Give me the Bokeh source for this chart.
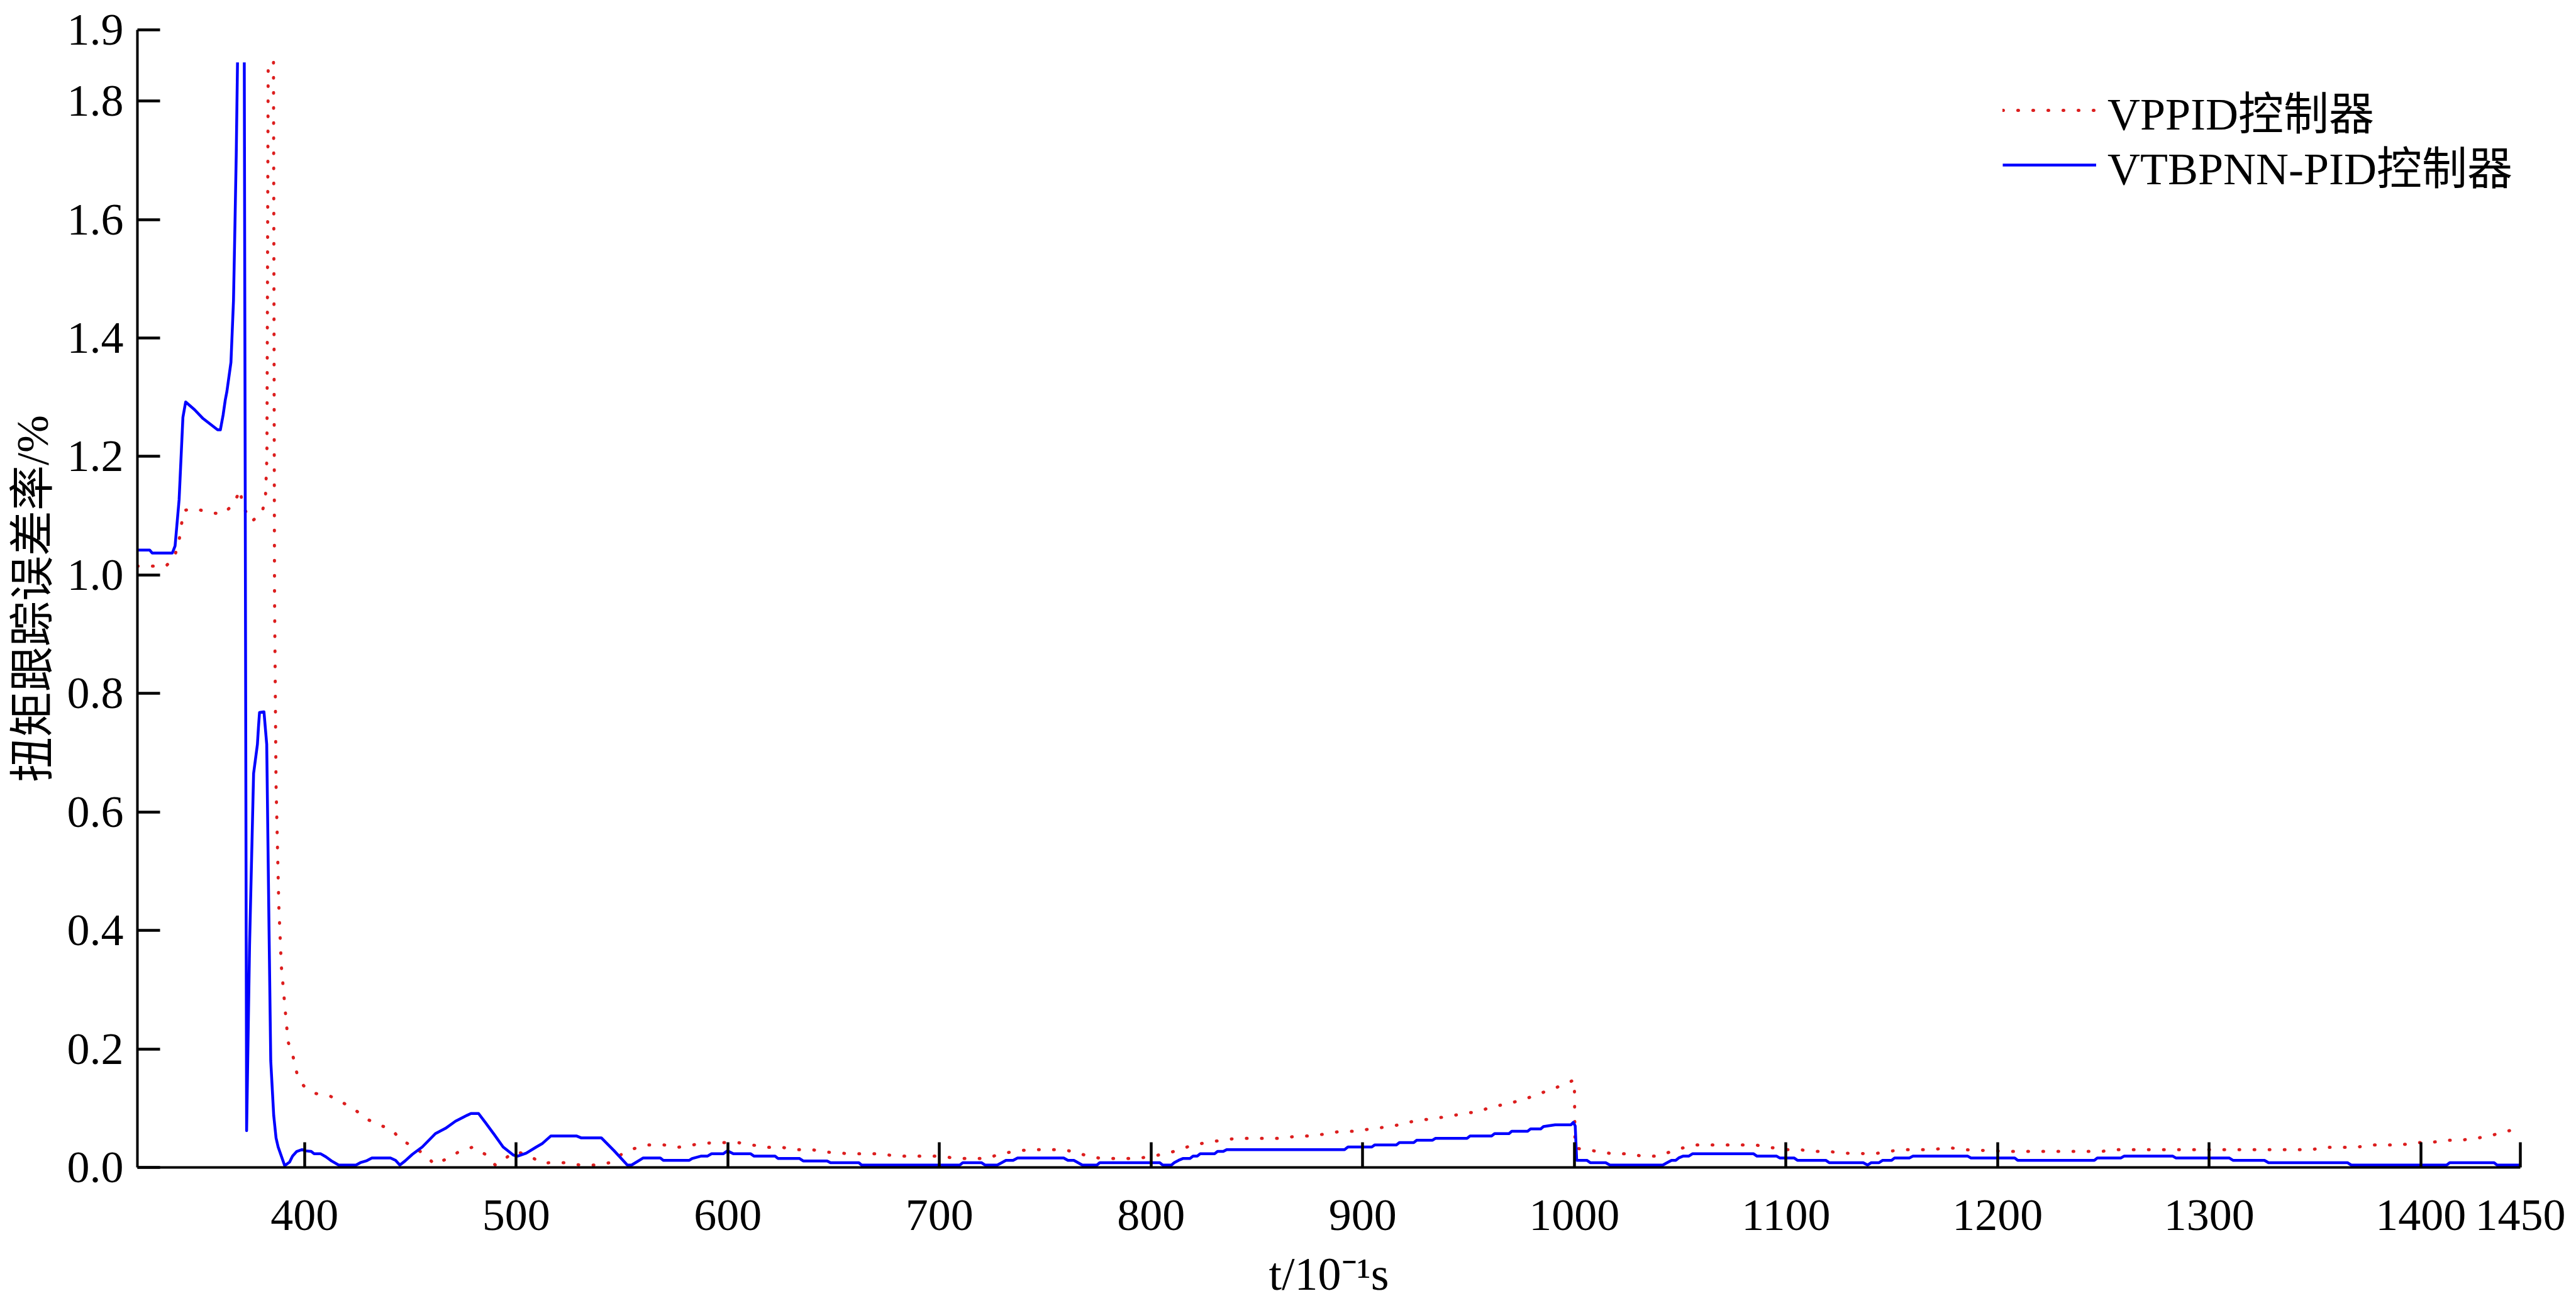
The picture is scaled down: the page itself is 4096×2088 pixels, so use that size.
import math
from bokeh.plotting import figure
from bokeh.models import (Range1d, FixedTicker, PrintfTickFormatter,
                          Legend, LegendItem)
from bokeh.embed import file_html
from bokeh.resources import INLINE

NAN = float("nan")

# ---------------- data ----------------
# VTBPNN-PID controller (solid blue)
BLUE_T = [321, 326.8, 328, 337.5, 338.8, 340.7, 342.5, 343.8, 348, 352, 358.9, 360.2,
          361.5, 362.5, 363.3, 365.2, 366.4, 367, 367.7, 368.3, NAN,
          371.5, 372.6, 374, 375.9, 377.7, 378.2, 378.7, 380.8, 382.1, 383.2, 384,
          385.4, 386.5, 387.5, 390.6, 392.9, 394.3, 396.3, 398.8, 400.4, 403.1, 404.5,
          407.6, 410, 412.7, 416.1, 424.3, 426.3, 429.1, 431.8, 440.6, 443, 445, 447.5,
          450.9, 455.6, 461.8, 466.6, 471.3, 476.8, 478.6, 482.2, 485.6, 489.7, 493.8,
          498.6, 500.6, 504.7, 509.5, 512.2, 516.3, 528.6, 530.6, 540.2, 546.3, 552.5,
          554.5, 560, 568.1, 569.5, 581.8, 583.1, 587.2, 590.3, 592.3, 597.8, 599.8,
          602.6, 610.8, 612.4, 622.3, 623.7, 633.9, 635.6, 646.9, 648.5, 661.9, 663.2,
          709.6, 711, 719.8, 721.5, 727.3, 729.4, 731.4, 734.8, 736.9, 758.7, 760.7,
          763.5, 765.5, 767.5, 774.4, 775.7, 804.1, 805.5, 809.6, 810.9, 813, 815,
          818.4, 819.8, 821.8, 823.2, 830, 831.4, 834.1, 835.7, 891.4, 893, 904.3,
          905.7, 915.9, 917.3, 924.1, 925.5, 933, 934.3, 949.3, 950.7, 960.9, 962.3,
          969.1, 970.4, 977.9, 979.3, 984.1, 985.4, 990.9, 998.4, 999.5, 1000.4,
          1001.1, 1005.9, 1007.5, 1014.8, 1016.8, 1041.8, 1043.8, 1045.9, 1047.9,
          1049.3, 1051.3, 1054, 1055.8, 1084.7, 1086.3, 1095.6, 1097, 1103.8, 1105.4,
          1118.8, 1120.4, 1136.5, 1138.6, 1140.3, 1144, 1145.7, 1149.9, 1151.3,
          1158.3, 1160, 1185.9, 1187.4, 1208.1, 1209.5, 1245.7, 1247.1, 1258.3,
          1259.7, 1282.8, 1284.2, 1309.4, 1311.2, 1326.1, 1328, 1365.3, 1367.1,
          1412.2, 1413.6, 1434.6, 1436, 1446.8]
BLUE_V = [1.042, 1.042, 1.037, 1.037, 1.049, 1.127, 1.266, 1.292, 1.279, 1.264, 1.245, 1.245,
          1.27, 1.295, 1.31, 1.359, 1.463, 1.574, 1.709, 1.865, NAN,
          1.865, 0.062, 0.376, 0.665, 0.714, 0.743, 0.768, 0.769, 0.714, 0.40, 0.18,
          0.088, 0.05, 0.0345, 0.003, 0.009, 0.019, 0.027, 0.030, 0.028, 0.027, 0.023,
          0.023, 0.018, 0.011, 0.004, 0.004, 0.008, 0.011, 0.016, 0.016, 0.012, 0.004, 0.011,
          0.022, 0.0345, 0.057, 0.066, 0.078, 0.088, 0.091, 0.091, 0.075, 0.055, 0.0345,
          0.021, 0.019, 0.024, 0.0345, 0.040, 0.053, 0.053, 0.050, 0.050, 0.028, 0.004,
          0.004, 0.016, 0.016, 0.012, 0.012, 0.015, 0.019, 0.019, 0.023, 0.023, 0.028,
          0.023, 0.023, 0.019, 0.019, 0.015, 0.015, 0.011, 0.011, 0.008, 0.008, 0.004,
          0.004, 0.008, 0.008, 0.004, 0.004, 0.008, 0.012, 0.012, 0.016, 0.016, 0.012,
          0.012, 0.008, 0.004, 0.004, 0.008, 0.008, 0.004, 0.004, 0.008, 0.012, 0.015,
          0.015, 0.019, 0.019, 0.023, 0.023, 0.027, 0.027, 0.030, 0.030, 0.0345, 0.0345,
          0.038, 0.038, 0.042, 0.042, 0.046, 0.046, 0.049, 0.049, 0.053, 0.053, 0.057,
          0.057, 0.061, 0.061, 0.065, 0.065, 0.069, 0.072, 0.072, 0.076, 0.070,
          0.012, 0.012, 0.008, 0.008, 0.004, 0.004, 0.008, 0.012, 0.012,
          0.016, 0.019, 0.019, 0.023, 0.023, 0.019, 0.019, 0.016, 0.016, 0.012,
          0.012, 0.008, 0.008, 0.004, 0.008, 0.008, 0.012, 0.012, 0.016,
          0.016, 0.019, 0.019, 0.016, 0.016, 0.012, 0.012, 0.016, 0.016,
          0.019, 0.019, 0.016, 0.016, 0.012, 0.012, 0.008, 0.008, 0.004,
          0.004, 0.008, 0.008, 0.004, 0.004]

# VPPID controller (dotted red)
RED_T = [321, 334.5, 338.5, 340.7, 341.7, 343, 348.4, 355.1, 361.5, 366.6, 369.5, 370.8,
         374.9, 379.9, 381.5, 382.2, 382.8, NAN,
         385.3, 385.8, 386.5, 387.8, 389, 390.9, 392.2, 394.7, 396.3, 399.5, 404.9,
         411.7, 417.7, 423.6, 429.1, 435.2, 441.6, 444.8, 450.6, 456.3, 461.5, 467.4,
         473.2, 479.6, 485.4, 490.1, 495.9, 500.1, 506.4, 512.2, 516, 523.4, 530.2,
         537.5, 544.3, 549.7, 555.9, 562.7, 569.8, 576.6, 583.4, 589.9, 597.4, 604.6,
         611.4, 618.3, 625.5, 632.3, 639.7, 646.5, 657.9, 672.5, 679.3, 701, 707.8,
         722.3, 728.7, 735.5, 742.3, 756.6, 763.5, 770, 776.8, 793.5, 800.3, 807.1,
         813.4, 819.8, 826.6, 833.4, 840.2, 862.1, 868.9, 876.1, 882.9, 889.7, 896.8,
         903.6, 910.5, 917.3, 921.1, 927.9, 934.7, 941.5, 948.4, 955.2, 961.6, 968.4,
         975, 981.4, 987.5, 993.9, 1000, 1000.3, 1004.5, 1011.4, 1017.9, 1025.4,
         1032.2, 1039.4, 1045.9, 1052.3, 1056.4, 1085.4, 1092.2, 1099.3, 1106.3,
         1113.1, 1120.3, 1127.1, 1141.6, 1148.4, 1155.2, 1169.7, 1176.5, 1183.3,
         1205.5, 1248.9, 1255.8, 1348.3, 1354.8, 1369.5, 1376.2, 1390.8, 1397.5,
         1404.9, 1411.8, 1418.9, 1425.8, 1432.5, 1439.1, 1445.8]
RED_V = [1.015, 1.015, 1.03, 1.058, 1.083, 1.109, 1.112, 1.105, 1.103, 1.120, 1.144, 1.116,
         1.090, 1.105, 1.13, 1.20, 1.865, NAN,
         1.865, 0.961, 0.647, 0.443, 0.340, 0.263, 0.212, 0.185, 0.160, 0.138, 0.125,
         0.121, 0.110, 0.098, 0.082, 0.072, 0.063, 0.048, 0.0365, 0.023, 0.005, 0.015,
         0.027, 0.0345, 0.022, 0.004, 0.018, 0.027, 0.019, 0.007, 0.008, 0.008, 0.004,
         0.004, 0.008, 0.022, 0.032, 0.038, 0.038, 0.034, 0.038, 0.041, 0.042, 0.042,
         0.038, 0.034, 0.034, 0.030, 0.030, 0.026, 0.023, 0.023, 0.019, 0.019, 0.015,
         0.015, 0.023, 0.027, 0.030, 0.030, 0.027, 0.019, 0.015, 0.015, 0.019, 0.023,
         0.030, 0.038, 0.042, 0.046, 0.049, 0.049, 0.053, 0.053, 0.057, 0.061, 0.061,
         0.065, 0.068, 0.072, 0.076, 0.080, 0.083, 0.087, 0.091, 0.095, 0.103, 0.107,
         0.114, 0.121, 0.130, 0.138, 0.148, 0.033, 0.030, 0.027, 0.023, 0.023,
         0.019, 0.019, 0.027, 0.034, 0.038, 0.038, 0.034, 0.030, 0.030,
         0.027, 0.027, 0.024, 0.023, 0.027, 0.030, 0.030, 0.034, 0.030,
         0.027, 0.027, 0.030, 0.030, 0.034, 0.034, 0.038, 0.038, 0.042,
         0.042, 0.046, 0.046, 0.049, 0.053, 0.060, 0.065]

SERIES_NAMES = ["VPPID控制器", "VTBPNN-PID控制器"]

X_START, X_END = 321, 1447
Y_START, Y_END = 0.0, 1.92
X_TICKS = [400, 500, 600, 700, 800, 900, 1000, 1100, 1200, 1300, 1400, 1447]
X_TICK_LABELS = ["400", "500", "600", "700", "800", "900", "1000", "1100", "1200",
                 "1300", "1400", "1450"]
Y_TICKS = [0.0, 0.2, 0.4, 0.6, 0.8, 1.0, 1.2, 1.4, 1.6, 1.8, 1.92]
Y_TITLE = "扭矩跟踪误差率/%"
X_TITLE = "t/10\u207b\u00b9s"

assert len(BLUE_T) == len(BLUE_V), (len(BLUE_T), len(BLUE_V))
assert len(RED_T) == len(RED_V), (len(RED_T), len(RED_V))

# ---------------- figure ----------------
LATIN = "Liberation Serif"
MIXED = "Liberation Serif, Noto Sans CJK SC"

p = figure(width=4080, height=2080, output_backend="svg", toolbar_location=None,
           x_range=Range1d(X_START, X_END), y_range=Range1d(Y_START, Y_END),
           min_border_left=218, min_border_right=73, min_border_top=47,
           min_border_bottom=224)
p.xgrid.visible = False
p.ygrid.visible = False
p.outline_line_color = None
p.background_fill_color = "white"
p.border_fill_color = "white"

for ax in (p.xaxis[0], p.yaxis[0]):
    ax.axis_line_width = 4
    ax.axis_line_color = "black"
    ax.major_tick_out = 0
    ax.minor_tick_in = 0
    ax.minor_tick_out = 0
    ax.major_tick_line_width = 4.5
    ax.major_tick_line_color = "black"
    ax.major_label_text_font = LATIN
    ax.major_label_text_font_size = "72px"
    ax.major_label_text_color = "black"
    ax.axis_label_text_font_style = "normal"
    ax.axis_label_text_color = "black"

xa = p.xaxis[0]
xa.major_tick_in = 40
xa.ticker = FixedTicker(ticks=X_TICKS)
xa.major_label_overrides = {t: s for t, s in zip(X_TICKS, X_TICK_LABELS)}
xa.major_label_standoff = 52
xa.axis_label = X_TITLE
xa.axis_label_text_font = LATIN
xa.axis_label_text_font_size = "74px"
xa.axis_label_standoff = 26

ya = p.yaxis[0]
ya.major_tick_in = 36
ya.ticker = FixedTicker(ticks=Y_TICKS)
ya.formatter = PrintfTickFormatter(format="%.1f")
ya.major_label_standoff = 22
ya.axis_label = Y_TITLE
ya.axis_label_text_font = MIXED
ya.axis_label_text_font_size = "72px"
ya.axis_label_standoff = 12

r_red = p.line(RED_T, RED_V, line_color="#dc1e1e", line_width=5,
               line_dash="1 23", line_cap="round")
r_blue = p.line(BLUE_T, BLUE_V, line_color="#0000ff", line_width=4.5,
                line_join="round")

# one legend box per entry, so that the row pitch matches the reference
for name, rend, loc in ((SERIES_NAMES[0], r_red, (2966, 1629)),
                        (SERIES_NAMES[1], r_blue, (2966, 1542))):
    lg = Legend(items=[LegendItem(label=name, renderers=[rend])],
                location=loc, orientation="vertical",
                label_text_font=MIXED, label_text_font_size="72px",
                label_text_color="black",
                glyph_width=149, glyph_height=80, label_height=80,
                label_standoff=18, spacing=0, padding=0, margin=0,
                border_line_color=None, background_fill_alpha=0)
    p.add_layout(lg)

open("out.html", "w").write(file_html(p, INLINE))
